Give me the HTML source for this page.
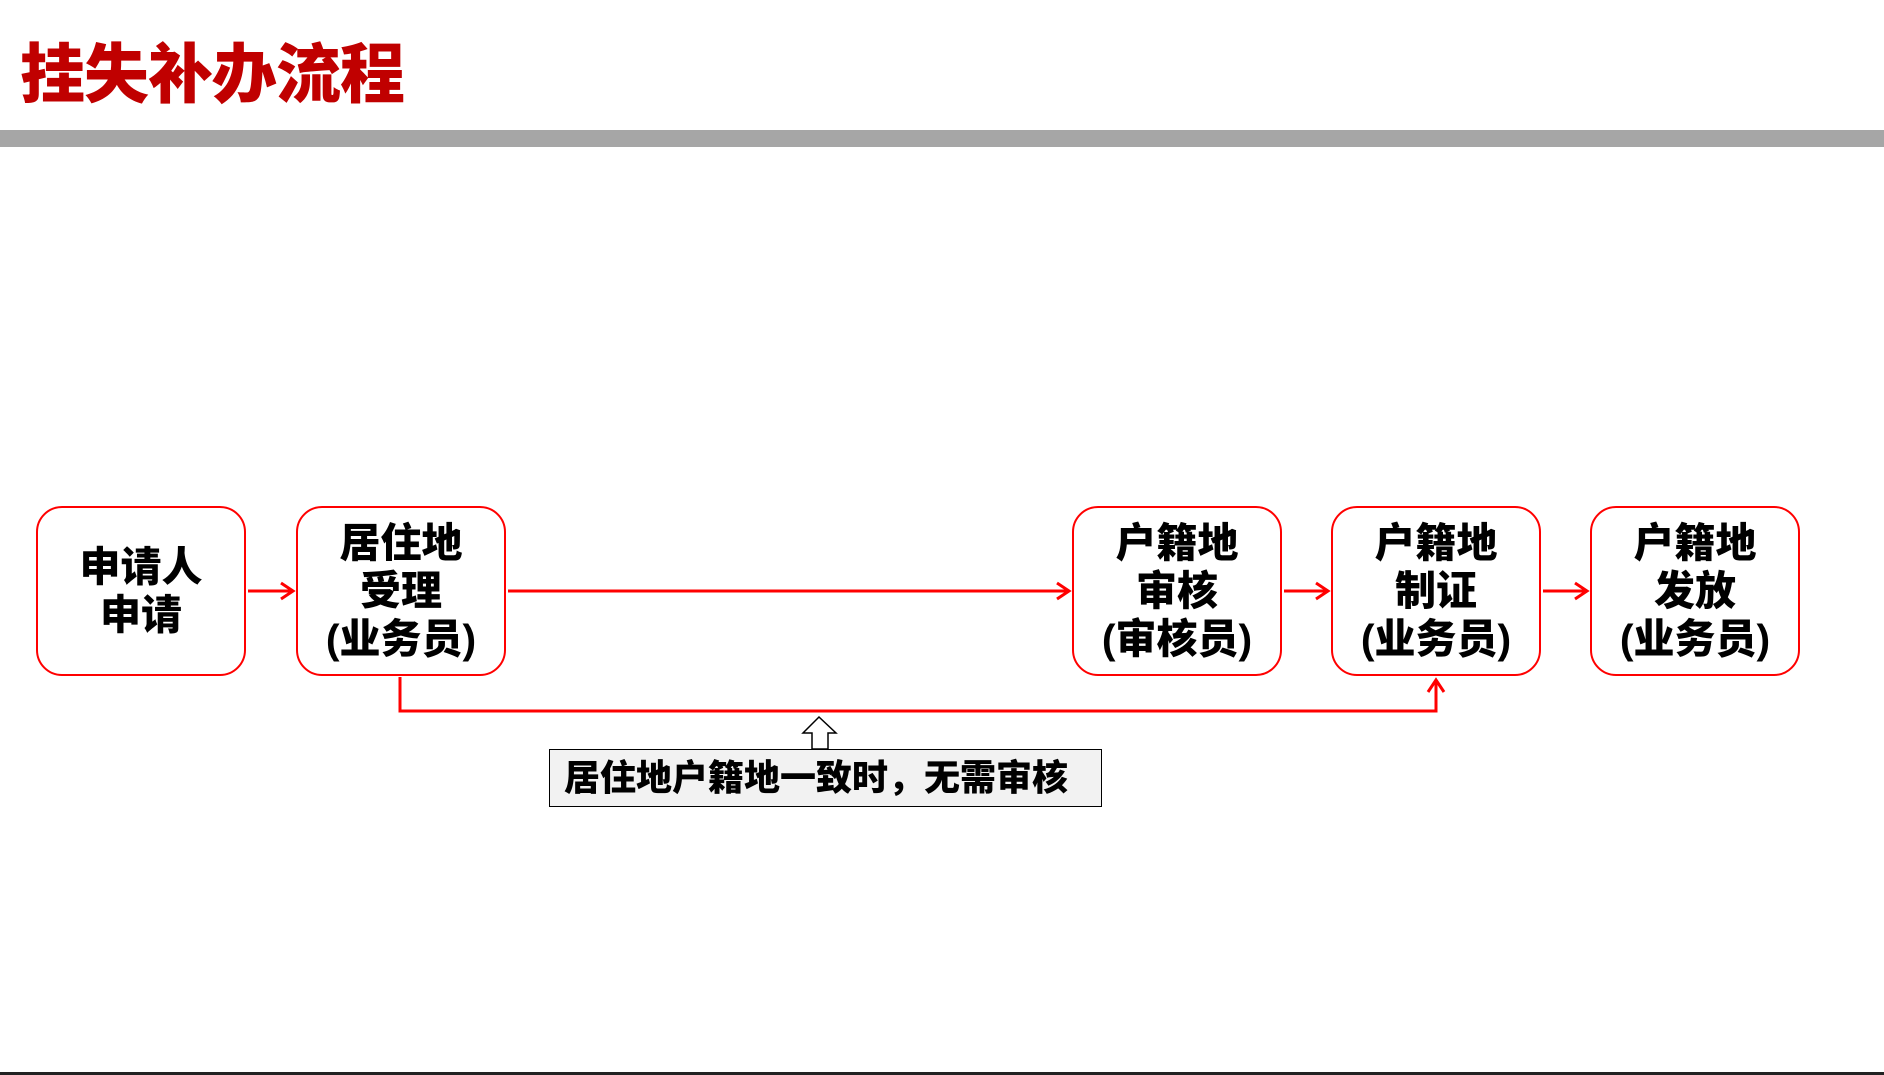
<!DOCTYPE html>
<html><head><meta charset="utf-8"><style>
html,body{margin:0;padding:0;background:#fff;}
body{width:1884px;height:1075px;position:relative;overflow:hidden;font-family:"Liberation Sans","Noto Sans CJK SC",sans-serif;}
.t{position:absolute;left:20px;top:22px;font-size:65px;font-weight:900;color:#c00000;letter-spacing:-1px;}
.bar{position:absolute;left:0;top:130px;width:1884px;height:17px;background:#a6a6a6;}
.bl{position:absolute;left:0;top:1072px;width:1884px;height:3px;background:#222;}
.box{position:absolute;top:506px;width:206px;height:166px;border:2.5px solid #f00;border-radius:26px;display:flex;align-items:center;justify-content:center;text-align:center;font-size:41px;font-weight:900;line-height:48px;color:#000;}
.note{position:absolute;left:549px;top:749px;border:1.5px solid #000;background:#f2f2f2;font-size:36px;font-weight:900;line-height:55px;padding-left:14px;box-sizing:border-box;width:553px;height:58px;}
svg{position:absolute;left:0;top:0;}
</style></head><body>
<div class="t">挂失补办流程</div>
<div class="bar"></div>
<svg width="1884" height="1075">
<g stroke="#f00" stroke-width="3" fill="none">
<line x1="248" y1="591" x2="292" y2="591"/><polyline points="281,583 293,591 281,599"/>
<line x1="508" y1="591" x2="1068" y2="591"/><polyline points="1057,583 1069,591 1057,599"/>
<line x1="1284" y1="591" x2="1327" y2="591"/><polyline points="1316,583 1328,591 1316,599"/>
<line x1="1543" y1="591" x2="1586" y2="591"/><polyline points="1575,583 1587,591 1575,599"/>
<polyline points="400,677 400,711 1436,711 1436,681"/><polyline points="1428,692 1436,680 1444,692"/>
</g>
<polygon points="819,717 836,733 828,733 828,749 812,749 812,733 803,733" fill="#fff" stroke="#000" stroke-width="1.5"/>
</svg>
<div class="box" style="left:36px">申请人<br>申请</div>
<div class="box" style="left:296px">居住地<br>受理<br>(业务员)</div>
<div class="box" style="left:1072px">户籍地<br>审核<br>(审核员)</div>
<div class="box" style="left:1331px">户籍地<br>制证<br>(业务员)</div>
<div class="box" style="left:1590px">户籍地<br>发放<br>(业务员)</div>
<div class="note">居住地户籍地一致时，无需审核</div>
<div class="bl"></div>
</body></html>
